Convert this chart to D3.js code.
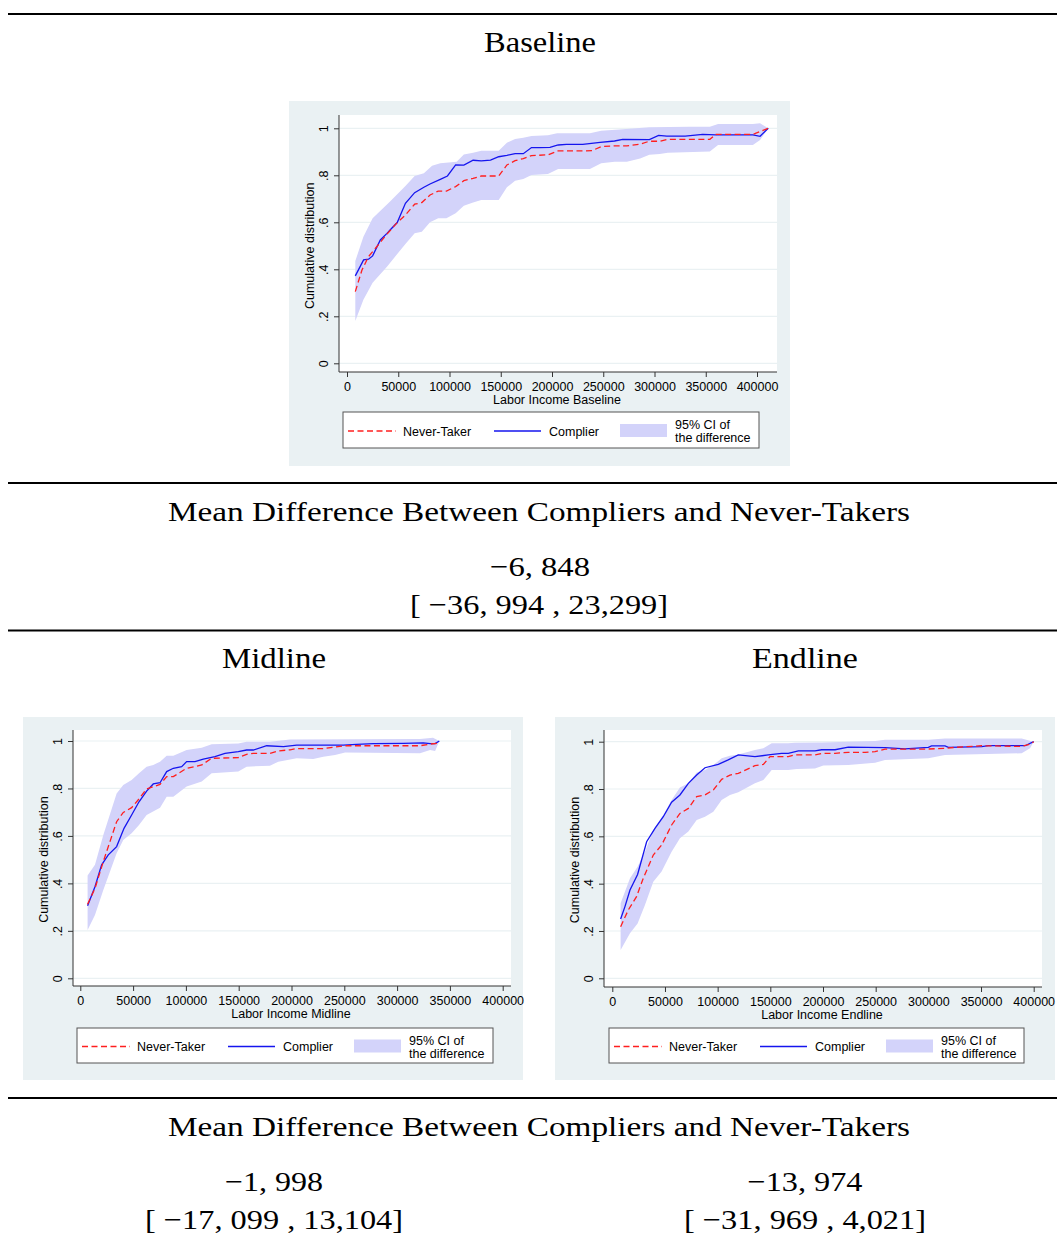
<!DOCTYPE html>
<html>
<head>
<meta charset="utf-8">
<script src="https://cdn.jsdelivr.net/npm/d3@7"></script>
<style>
body { margin: 0; background: #fff; }
svg text { font-family: "Liberation Sans", Arial, sans-serif; fill: #000; }
svg text.serif { font-family: "Liberation Serif", "Times New Roman", serif; }
</style>
</head>
<body>
<svg width="1057" height="1236"></svg>
<script>
// tick values / labels shared by the three panels
const xTicks = [0, 50000, 100000, 150000, 200000, 250000, 300000, 350000, 400000];
const yTicks = [0, 0.2, 0.4, 0.6, 0.8, 1];
const yTickLabels = ['0', '.2', '.4', '.6', '.8', '1'];
const legendLabels = ['Never-Taker', 'Complier', '95% CI of', 'the difference'];

// panel text
const panelTitles = ['Baseline', 'Midline', 'Endline'];
const xTitles = ['Labor Income Baseline', 'Labor Income Midline', 'Labor Income Endline'];
const meanHeader = 'Mean Difference Between Compliers and Never-Takers';
const meanValues = ['\u22126, 848', '\u22121, 998', '\u221213, 974'];
const meanCIs = ['[ \u221236, 994 , 23,299]', '[ \u221217, 099 , 13,104]', '[ \u221231, 969 , 4,021]'];

// ---- Baseline: [income, cumulative share]
const baseComplier = [[8100,.372],[16200,.44],[21000,.443],[25000,.457],[32500,.525],[39000,.553],[42000,.567],[49000,.599],[57000,.681],[66000,.726],[75000,.749],[81000,.763],[91000,.783],[98000,.797],[106000,.844],[114000,.843],[123000,.864],[131000,.861],[140000,.865],[148000,.879],[156000,.885],[164000,.892],[172000,.892],[180000,.918],[188000,.918],[198000,.919],[206000,.929],[214000,.932],[230000,.932],[247000,.94],[261000,.946],[269000,.953],[295000,.952],[304000,.970],[312000,.967],[330000,.967],[347000,.974],[360000,.972],[396000,.972],[403000,.966],[411000,1]];
const baseNever = [[8100,.305],[14600,.397],[21000,.454],[29000,.496],[39000,.55],[49000,.599],[57000,.631],[66000,.677],[73000,.684],[81000,.716],[89000,.733],[97000,.733],[106000,.752],[114000,.777],[123000,.787],[131000,.797],[148000,.797],[156000,.844],[164000,.862],[172000,.871],[180000,.884],[196000,.887],[206000,.904],[230000,.904],[239000,.905],[248000,.922],[261000,.925],[273000,.925],[286000,.933],[295000,.945],[305000,.945],[313000,.953],[354000,.953],[360000,.974],[396000,.974],[411000,1]];
const baseUpper = [[8100,.435],[16000,.539],[25000,.617],[42000,.688],[57000,.755],[66000,.797],[75000,.809],[83000,.841],[91000,.851],[107000,.858],[114000,.889],[123000,.896],[131000,.904],[148000,.904],[156000,.939],[164000,.955],[172000,.96],[180000,.967],[196000,.970],[205000,.979],[237000,.979],[248000,.99],[269000,.996],[295000,1.004],[334000,1.007],[354000,1.007],[362000,1.018],[396000,1.018],[403000,1.021],[411000,1]];
const baseLower = [[8100,.18],[16000,.27],[25000,.343],[39000,.411],[49000,.465],[57000,.508],[66000,.553],[73000,.56],[81000,.6],[89000,.617],[97000,.617],[106000,.638],[114000,.67],[123000,.684],[131000,.695],[148000,.695],[156000,.749],[164000,.777],[172000,.784],[180000,.801],[196000,.806],[206000,.827],[237000,.827],[248000,.851],[261000,.858],[273000,.858],[286000,.872],[295000,.887],[305000,.891],[313000,.896],[354000,.901],[362000,.929],[396000,.929],[403000,.95],[411000,1]];

// ---- Midline
const midComplier = [[6900,.306],[13900,.386],[20200,.478],[26500,.52],[34400,.555],[41400,.632],[48600,.688],[55600,.744],[62800,.789],[69100,.819],[75500,.824],[81800,.871],[88100,.885],[96000,.892],[100700,.913],[108600,.913],[116500,.924],[127500,.934],[137000,.948],[149600,.955],[157500,.962],[163900,.962],[176500,.98],[192300,.976],[204900,.983],[249000,.983],[261700,.986],[277500,.989],[306000,.99],[324900,.992],[331200,.989],[336000,.989],[340000,1]];
const midNever = [[6900,.312],[13900,.379],[21800,.492],[28100,.576],[34400,.66],[40700,.699],[48600,.719],[55600,.756],[62800,.798],[75500,.817],[81800,.85],[88100,.85],[100700,.885],[108600,.892],[115000,.899],[124400,.927],[149600,.93],[157500,.944],[163900,.948],[179600,.948],[187500,.958],[198600,.963],[204900,.968],[230100,.968],[241200,.975],[250700,.98],[321700,.98],[331200,.987],[337500,.99],[340000,1]];
const midUpper = [[6900,.433],[13900,.478],[21800,.604],[34400,.779],[40700,.815],[48600,.836],[55600,.864],[62800,.892],[69100,.899],[75500,.913],[81800,.938],[88100,.938],[100700,.962],[115000,.972],[124400,.986],[149600,.989],[157500,.997],[179600,.997],[198600,1.006],[321700,1.008],[334000,1.014],[340000,1]];
const midLower = [[6900,.204],[13900,.267],[21800,.372],[34400,.527],[40700,.583],[48600,.611],[55600,.646],[62800,.688],[75500,.719],[81800,.765],[88100,.765],[100700,.808],[115000,.829],[124400,.864],[149600,.871],[157500,.892],[179600,.896],[187500,.913],[204900,.927],[220600,.924],[230100,.934],[241200,.941],[250700,.952],[321700,.948],[331200,.962],[336000,.958],[340000,1]];

// ---- Endline
const endComplier = [[7900,.251],[12000,.303],[16800,.373],[24000,.439],[32600,.577],[40500,.634],[48400,.683],[56300,.744],[64200,.775],[72200,.824],[80100,.859],[88000,.890],[100600,.904],[110000,.923],[119600,.944],[135400,.937],[148000,.944],[160800,.951],[167000,.951],[176600,.961],[192400,.961],[198700,.966],[211400,.966],[224000,.977],[258900,.975],[277800,.970],[300000,.976],[303000,.982],[315800,.982],[319000,.976],[350600,.979],[357000,.983],[391800,.983],[400000,1]];
const endNever = [[7900,.218],[15200,.289],[23000,.345],[29400,.423],[38900,.521],[46800,.563],[56300,.648],[64200,.697],[72200,.718],[80100,.768],[88000,.775],[95900,.796],[103800,.841],[111700,.859],[119600,.866],[135400,.899],[143400,.904],[149700,.937],[167000,.937],[173400,.944],[192400,.944],[200300,.951],[211400,.951],[224000,.955],[239900,.955],[249400,.958],[258900,.969],[300000,.969],[315800,.972],[325300,.976],[350600,.983],[388600,.980],[396500,.989],[400000,1]];
const endUpper = [[7900,.317],[16800,.423],[24000,.472],[31000,.535],[38900,.627],[48400,.690],[56300,.754],[64200,.806],[72200,.824],[80100,.870],[88000,.880],[95900,.901],[103800,.930],[111700,.941],[119600,.946],[135400,.965],[143400,.972],[151300,.993],[167000,.993],[173400,.996],[198700,.997],[249400,1.003],[258900,1.008],[300000,1.008],[315800,1.014],[388600,1.014],[400000,1]];
const endLower = [[7900,.12],[16800,.190],[24000,.232],[31000,.310],[38900,.408],[46800,.451],[56300,.535],[64200,.592],[72200,.620],[80100,.669],[88000,.683],[95900,.704],[103800,.754],[111700,.775],[119600,.786],[135400,.824],[143400,.838],[151300,.880],[167000,.880],[175000,.885],[192400,.887],[200300,.899],[224000,.901],[249400,.911],[258900,.923],[300000,.930],[315800,.944],[388600,.951],[396500,.972],[400000,1]];

const colors = { never: '#ff1f1f', complier: '#1515ee', band: '#d3d3fa', panel: '#eaf1f3', grid: '#eaf1f3' };

const svg = d3.select('svg');

// table rules
[14, 483, 630.5, 1098].forEach(y => {
    svg.append('line').attr('x1', 8).attr('x2', 1057).attr('y1', y).attr('y2', y)
        .attr('stroke', '#000').attr('stroke-width', 2);
});

const serif = (x, y, str, width, size) => {
    svg.append('text').attr('class', 'serif')
        .attr('x', x).attr('y', y)
        .attr('text-anchor', 'middle')
        .attr('font-size', size)
        .attr('textLength', width)
        .attr('lengthAdjust', 'spacingAndGlyphs')
        .text(str);
};

const drawPanel = (p, complier, never, upper, lower, xTitle) => {
    svg.append('rect').attr('x', p.panel[0]).attr('y', p.panel[1])
        .attr('width', p.panel[2]).attr('height', p.panel[3]).attr('fill', colors.panel);
    svg.append('rect').attr('x', p.plot.l).attr('y', p.plot.t)
        .attr('width', p.plot.r - p.plot.l).attr('height', p.plot.b - p.plot.t).attr('fill', '#fff');

    const x = d3.scaleLinear().domain([0, 400000]).range(p.xRange);
    const y = d3.scaleLinear().domain([0, 1]).range(p.yRange);

    const g = svg.append('g');

    // gridlines
    g.selectAll('.grid').data(yTicks).enter().append('line')
        .attr('x1', p.plot.l).attr('x2', p.plot.r)
        .attr('y1', d => y(d)).attr('y2', d => y(d))
        .attr('stroke', colors.grid).attr('stroke-width', 1.2);

    // CI band: upper edge out, lower edge back
    const line = d3.line().x(d => x(d[0])).y(d => y(d[1]));
    const poly = upper.concat(lower.slice().reverse());
    g.append('path')
        .attr('d', line(poly) + 'Z')
        .attr('fill', colors.band).attr('stroke', 'none');

    g.append('path').attr('d', line(complier))
        .attr('fill', 'none').attr('stroke', colors.complier).attr('stroke-width', 1.3);
    g.append('path').attr('d', line(never))
        .attr('fill', 'none').attr('stroke', colors.never).attr('stroke-width', 1.3)
        .attr('stroke-dasharray', '6,3.5');

    // axes
    const xAxis = d3.axisBottom(x).tickValues(xTicks).tickSize(5).tickSizeOuter(0)
        .tickPadding(5).tickFormat(d => d);
    const xg = g.append('g').attr('transform', `translate(0,${p.plot.b})`).call(xAxis);
    xg.select('.domain').remove();
    xg.selectAll('text').attr('font-size', 12.5).attr('font-family', '"Liberation Sans", Arial, sans-serif');
    xg.selectAll('line').attr('stroke', '#333');

    const yAxis = d3.axisLeft(y).tickValues(yTicks).tickSize(5).tickSizeOuter(0)
        .tickFormat((d, i) => yTickLabels[i]);
    const yg = g.append('g').attr('transform', `translate(${p.plot.l},0)`).call(yAxis);
    yg.select('.domain').remove();
    yg.selectAll('line').attr('stroke', '#333');
    yg.selectAll('text')
        .attr('x', null).attr('dy', '0.35em')
        .attr('text-anchor', 'middle')
        .attr('transform', 'translate(-15,0) rotate(-90)')
        .attr('font-size', 12.5).attr('font-family', '"Liberation Sans", Arial, sans-serif');

    // axis lines along the plot region
    g.append('line').attr('x1', p.plot.l).attr('x2', p.plot.l).attr('y1', p.plot.t).attr('y2', p.plot.b)
        .attr('stroke', '#333').attr('stroke-width', 1);
    g.append('line').attr('x1', p.plot.l).attr('x2', p.plot.r).attr('y1', p.plot.b).attr('y2', p.plot.b)
        .attr('stroke', '#333').attr('stroke-width', 1);

    g.append('text').text(xTitle)
        .attr('x', (p.plot.l + p.plot.r) / 2 - 1).attr('y', p.plot.b + 31.5)
        .attr('text-anchor', 'middle').attr('font-size', 12.5);
    g.append('text').text('Cumulative distribution')
        .attr('transform', `translate(${p.plot.l - 25},${(y(0) + y(1)) / 2}) rotate(-90)`)
        .attr('text-anchor', 'middle').attr('font-size', 12.5);

    // legend
    const L = p.legend;
    const lg = g.append('g').attr('transform', `translate(${L[0]},${L[1]})`);
    lg.append('rect').attr('width', L[2]).attr('height', L[3])
        .attr('fill', '#fff').attr('stroke', '#555').attr('stroke-width', 1);
    const cy = L[3] / 2 + 1;
    lg.append('line').attr('x1', 5).attr('x2', 53).attr('y1', cy).attr('y2', cy)
        .attr('stroke', colors.never).attr('stroke-width', 1.3).attr('stroke-dasharray', '6,3.5');
    lg.append('text').text(legendLabels[0]).attr('x', 60).attr('y', cy + 4.5).attr('font-size', 12.5);
    lg.append('line').attr('x1', 151).attr('x2', 198).attr('y1', cy).attr('y2', cy)
        .attr('stroke', colors.complier).attr('stroke-width', 1.3);
    lg.append('text').text(legendLabels[1]).attr('x', 206).attr('y', cy + 4.5).attr('font-size', 12.5);
    lg.append('rect').attr('x', 277).attr('y', cy - 7).attr('width', 47).attr('height', 13)
        .attr('fill', colors.band);
    lg.append('text').text(legendLabels[2]).attr('x', 332).attr('y', cy - 2).attr('font-size', 12.5);
    lg.append('text').text(legendLabels[3]).attr('x', 332).attr('y', cy + 11).attr('font-size', 12.5);
};

const panels = [
    { panel: [289, 101, 501, 365], plot: { l: 339, r: 777, t: 115, b: 372 },
      xRange: [347, 757], yRange: [363.3, 128.3], legend: [343, 412, 416, 36] },
    { panel: [23, 717, 500, 363], plot: { l: 73, r: 511, t: 730, b: 986 },
      xRange: [80.3, 502.7], yRange: [978.3, 741], legend: [77, 1028, 416, 35] },
    { panel: [555, 717, 500, 363], plot: { l: 604, r: 1042, t: 730, b: 987 },
      xRange: [612.3, 1033.7], yRange: [978.3, 741.7], legend: [609, 1028, 415, 35] }
];

drawPanel(panels[0], baseComplier, baseNever, baseUpper, baseLower, xTitles[0]);
drawPanel(panels[1], midComplier, midNever, midUpper, midLower, xTitles[1]);
drawPanel(panels[2], endComplier, endNever, endUpper, endLower, xTitles[2]);

// serif table text
serif(540, 52, panelTitles[0], 112, 29);
serif(539, 521, meanHeader, 742, 28);
serif(540, 576, meanValues[0], 100, 28);
serif(539, 614, meanCIs[0], 258, 28);
serif(274, 668, panelTitles[1], 104, 29);
serif(805, 668, panelTitles[2], 106, 29);
serif(539, 1136, meanHeader, 742, 28);
serif(274, 1191, meanValues[1], 98, 28);
serif(274, 1229, meanCIs[1], 258, 28);
serif(805, 1191, meanValues[2], 115, 28);
serif(805, 1229, meanCIs[2], 242, 28);
</script>
</body>
</html>
